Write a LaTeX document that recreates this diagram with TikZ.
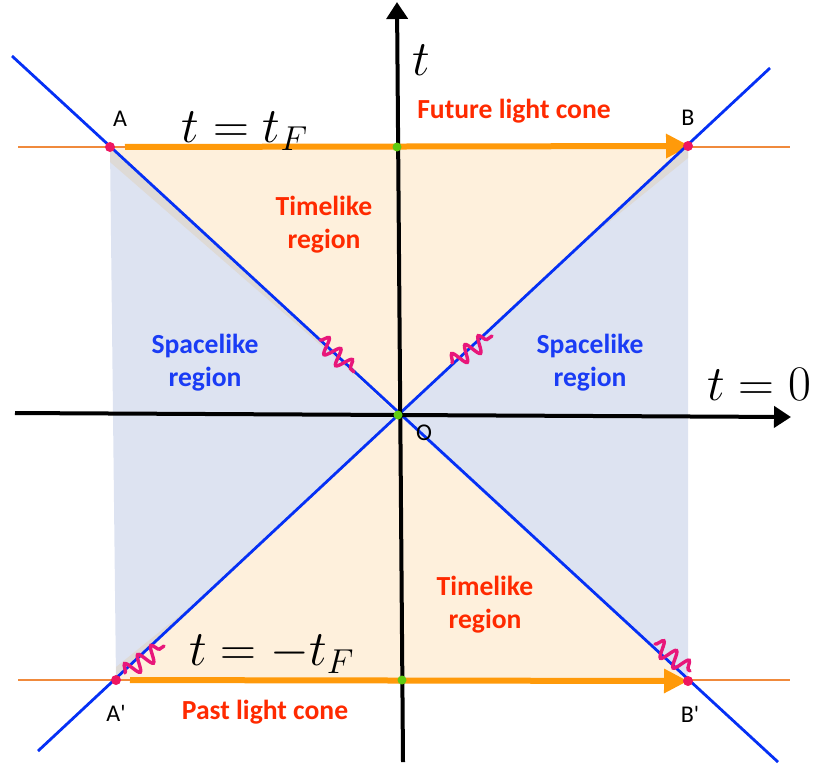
\documentclass[tikz,border=0pt]{standalone}
\usepackage{fontspec}
\newfontfamily\calfont{Carlito}
\usetikzlibrary{arrows.meta, decorations.pathmorphing, calc}

\definecolor{rayblue}{HTML}{0530F5}
\definecolor{spaceblue}{HTML}{1A3CF5}
\definecolor{timered}{HTML}{FF2A00}
\definecolor{sliceorange}{HTML}{F08A3C}
\definecolor{arroworange}{HTML}{FF9A0A}
\definecolor{evtred}{HTML}{EE1660}
\definecolor{midgreen}{HTML}{5FCB12}
\definecolor{wavepink}{HTML}{E8177A}
\definecolor{spacefill}{HTML}{DDE3F1}
\definecolor{timefill}{HTML}{FEF0DC}
\definecolor{bandfill}{HTML}{DEDAD6}

\begin{document}
\begin{tikzpicture}[
		x=0.5pt, y=-0.5pt,
		% estilos del diagrama de conos de luz
		evt/.style = {circle, fill=evtred, inner sep=0pt, minimum size=5pt},
		mid/.style = {circle, fill=midgreen, inner sep=0pt, minimum size=4.5pt},
		ptlabel/.style = {font=\calfont\fontsize{12}{14}\selectfont, inner sep=0pt},
		tlabel/.style = {font=\calfont\bfseries\fontsize{13.8}{16.5}\selectfont, text=timered, align=center, inner sep=0pt},
		slabel/.style = {tlabel, text=spaceblue},
		eqlabel/.style = {font=\fontsize{26}{30}\selectfont, inner sep=0pt},
		axis/.style = {line width=2pt, -{Triangle[length=8.5pt, width=10.5pt]}},
		ray/.style = {draw=rayblue, line width=1.4pt},
		slice/.style = {draw=sliceorange, line width=1pt},
		cone/.style = {draw=arroworange, line width=3pt, -{Triangle[length=12pt, width=11.5pt]}},
		wave/.style = {draw=wavepink, line width=1.7pt, line cap=round, decorate, decoration={snake, segment length=8pt, amplitude=4pt}}
		]
		
		\useasboundingbox (0,0) rectangle (817,768);
		
		% --- PUNTOS PRINCIPALES ---
		\coordinate (O) at (398,415);
		\coordinate (A) at (110,147);
		\coordinate (B) at (688,146);
		\coordinate (Ap) at (116,680);
		\coordinate (Bp) at (688,681);
		
		% --- REGIONES ---
		\fill [spacefill] (A) -- (O) -- (Ap) -- cycle;
		\fill [spacefill] (B) -- (O) -- (Bp) -- cycle;
		\fill [timefill] (A) -- (B) -- (O) -- cycle;
		\fill [timefill] (Ap) -- (Bp) -- (O) -- cycle;
		% franjas de solape
		\fill [bandfill] (A) -- ($(A)!0.85!(O)$) -- (110,162) -- cycle;
		\fill [bandfill] (B) -- ($(B)!0.35!(O)$) -- (688,158) -- cycle;
		\fill [bandfill] (Ap) -- ($(Ap)!0.35!(O)$) -- (116,667) -- cycle;
		
		% --- CORTES t = +-tF ---
		\coordinate (fl) at (18,147);
		\coordinate (fr) at (790,147);
		\coordinate (pl) at (18,680);
		\coordinate (pr) at (790,680);
		\draw [slice] (fl) -- (fr);
		\draw [slice] (pl) -- (pr);
		\draw [cone, shorten <=7.5pt, shorten >=-1pt] (A) -- (B);
		\draw [cone, shorten <=7pt] (Ap) -- (Bp);
		
		% --- RAYOS DE LUZ ---
		\coordinate (r1s) at (12,56);
		\coordinate (r1e) at (778,762);
		\coordinate (r2s) at (38,751);
		\coordinate (r2e) at (770,68);
		\draw [ray] (r1s) -- (r1e);
		\draw [ray] (r2s) -- (r2e);
		
		% --- EJES ---
		\coordinate (xl) at (15,413);
		\coordinate (xr) at (791,417);
		\coordinate (yb) at (403,762);
		\coordinate (yt) at (397,2);
		\draw [axis] (xl) -- (xr);
		\draw [axis] (yb) -- (yt);
		
		% --- ONDAS ---
		\coordinate (w1a) at (320,340);
		\coordinate (w1b) at (354,372);
		\coordinate (w2a) at (452,363);
		\coordinate (w2b) at (492,336);
		\coordinate (w3a) at (125,673);
		\coordinate (w3b) at (164,646);
		\coordinate (w4a) at (655,644);
		\coordinate (w4b) at (690,671);
		\draw [wave] (w1a) -- (w1b);
		\draw [wave] (w2a) -- (w2b);
		\draw [wave] (w3a) -- (w3b);
		\draw [wave] (w4a) -- (w4b);
		
		% --- EVENTOS ---
		\node [evt] (eA) at (A) {};
		\node [evt] (eB) at (B) {};
		\node [evt] (eAp) at (Ap) {};
		\node [evt] (eBp) at (Bp) {};
		\node [mid] (mF) at (397,147) {};
		\node [mid] (mP) at (402,680) {};
		\node [mid] (mO) at (O) {};
		
		% --- ETIQUETAS ---
		\node [ptlabel] at (120,119) {A};
		\node [ptlabel] at (688,118) {B};
		\node [ptlabel] at (116,713) {A'};
		\node [ptlabel] at (690,714) {B'};
		\node [ptlabel] at (424,433) {O};
		
		\node [eqlabel] at (421,60) {$t$};
		\node [eqlabel] at (759,384) {$t=0$};
		\node [eqlabel] at (245,131) {$t=t_F$};
		\node [eqlabel] at (272,654) {$t=-t_F$};
		
		\node [tlabel] at (514,111) {Future light cone};
		\node [tlabel] at (265,712) {Past light cone};
		\node [tlabel] at (324,225) {Timelike\\region};
		\node [tlabel] at (485,605) {Timelike\\region};
		\node [slabel] at (205,363) {Spacelike\\region};
		\node [slabel] at (590,363) {Spacelike\\region};
		
	\end{tikzpicture}
\end{document}
